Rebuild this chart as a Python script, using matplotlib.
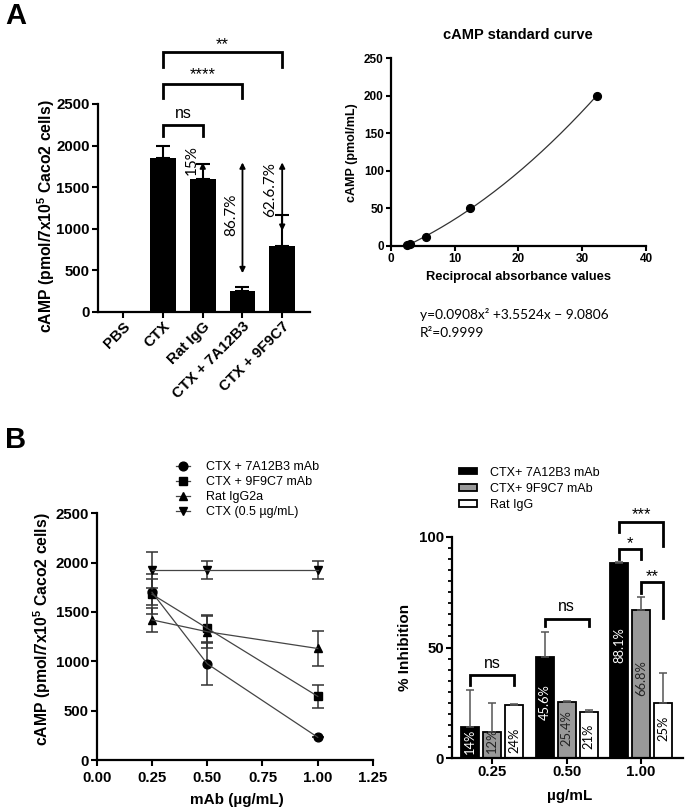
# -*- coding: utf-8 -*-

### cAMP figure: panels A and B ###

import numpy as np
import matplotlib
matplotlib.use("Agg")
import matplotlib.pyplot as plt
from matplotlib.patches import Patch
from matplotlib.lines import Line2D

plt.rcParams['font.family'] = ['Liberation Sans', 'DejaVu Sans']
plt.rcParams['mathtext.fontset'] = 'custom'
plt.rcParams['mathtext.bf'] = 'Liberation Sans:bold'
plt.rcParams['mathtext.rm'] = 'Liberation Sans'
plt.rcParams['mathtext.default'] = 'bf'

thin_font = ['Lato', 'DejaVu Sans']

## Data ##

# Panel A - bars
groups_A = ['PBS', 'CTX', 'Rat IgG', 'CTX + 7A12B3', 'CTX + 9F9C7']
camp_A = [8, 1850, 1600, 250, 790]
err_A = [0, 140, 180, 50, 370]

# Panel A - standard curve
recip_abs = [2.6, 3.1, 5.6, 12.5, 32.3]
std_camp = [0.8, 3.1, 12.5, 50, 200]
fit_coef = [0.0908, 3.5524, -9.0806]

# Panel B - dose response
dose = [0.25, 0.50, 1.00]
camp_7A12B3 = [1700, 975, 230]
sd_7A12B3 = [130, 210, 0]
camp_9F9C7 = [1680, 1335, 645]
sd_9F9C7 = [200, 135, 113]
camp_ratigg2a = [1420, 1300, 1130]
sd_ratigg2a = [120, 160, 175]
camp_ctx = [1925, 1925, 1925]
sd_ctx = [185, 95, 95]

# Panel B - inhibition
dose_labels = ['0.25', '0.50', '1.00']
inh_7A12B3 = [14, 45.6, 88.1]
inh_err_7A12B3 = [17, 11.5, 0.4]
inh_9F9C7 = [12, 25.4, 66.8]
inh_err_9F9C7 = [12.8, 0.5, 5.8]
inh_ratigg = [24, 21, 25]
inh_err_ratigg = [0.4, 0.9, 13.5]
inh_text_7A12B3 = ['14%', '45.6%', '88.1%']
inh_text_9F9C7 = ['12%', '25.4%', '66.8%']
inh_text_ratigg = ['24%', '21%', '25%']

W, H = 685, 810


def px_axes(fig, x0, x1, ytop, ybot):
    return fig.add_axes([x0 / W, 1 - ybot / H, (x1 - x0) / W, (ybot - ytop) / H])


def style_axis(ax, fs):
    for s in ['top', 'right']:
        ax.spines[s].set_visible(False)
    for s in ['left', 'bottom']:
        ax.spines[s].set_linewidth(1.6)
    ax.tick_params(width=1.5, length=4, labelsize=fs, pad=1.5)
    for lab in ax.get_xticklabels() + ax.get_yticklabels():
        lab.set_fontweight('bold')


def bracket(ax, x1, x2, y, yl, yr, text, ty, fs=12):
    ax.plot([x1, x1, x2, x2], [yl, y, y, yr], color='black', lw=2,
            clip_on=False, solid_joinstyle='miter')
    ax.text((x1 + x2) / 2, ty, text, ha='center', va='center',
            fontsize=fs, clip_on=False)


fig = plt.figure(figsize=(W / 100, H / 100), dpi=100)

fig.text(5 / W, 1 - 16 / H, 'A', fontsize=21, fontweight='bold', va='center')
fig.text(5 / W, 1 - 440 / H, 'B', fontsize=21, fontweight='bold', va='center')

## Panel A left ##
axA = px_axes(fig, 97.5, 310, 104, 311.7)
xA = np.arange(len(groups_A))
axA.bar(xA, camp_A, width=0.65, color='black')
axA.errorbar(xA[1:], camp_A[1:], yerr=[np.zeros(4), err_A[1:]], fmt='none',
             ecolor='black', elinewidth=1.5, capsize=5, capthick=1.5)
axA.set_xlim(-0.65, 4.7)
axA.set_ylim(0, 2500)
axA.set_yticks([0, 500, 1000, 1500, 2000, 2500])
axA.set_xticks(xA)
axA.set_xticklabels(groups_A, rotation=45, ha='right', rotation_mode='anchor')
style_axis(axA, 10.8)
axA.set_ylabel('cAMP (pmol/7x10$^5$ Caco2 cells)', fontsize=11.3, fontweight='bold')
axA.yaxis.set_label_coords(-0.19, 0.46)

# percentage arrows
arrow_kw = dict(arrowstyle='<|-|>', color='black', lw=1.3, mutation_scale=8)
axA.annotate('', xy=(3, 430), xytext=(3, 1830), arrowprops=arrow_kw)
axA.annotate('', xy=(4, 940), xytext=(4, 1830), arrowprops=arrow_kw)
axA.annotate('', xy=(2, 1830), xytext=(2, 1700),
             arrowprops=dict(arrowstyle='-|>', color='black', lw=1.3, mutation_scale=8))
axA.text(1.72, 1825, '15%', rotation=90, ha='center', va='center', fontsize=11, family=thin_font)
axA.text(2.72, 1165, '86.7%', rotation=90, ha='center', va='center', fontsize=11, family=thin_font)
axA.text(3.7, 1465, '62.6.7%', rotation=90, ha='center', va='center', fontsize=11, family=thin_font)

bracket(axA, 1, 2, 2250, 2120, 2120, 'ns', 2390, fs=11.5)
bracket(axA, 1, 3, 2740, 2570, 2570, '****', 2850)
bracket(axA, 1, 4, 3120, 2950, 2950, '**', 3210)

## Panel A right: standard curve ##
axS = px_axes(fig, 390.7, 646, 58.3, 246)
xfit = np.linspace(recip_abs[0], recip_abs[-1], 200)
axS.plot(xfit, np.polyval(fit_coef, xfit), color='#333333', lw=0.9)
axS.plot(recip_abs, std_camp, 'o', color='black', ms=5.6, clip_on=False)
axS.set_xlim(0, 40)
axS.set_ylim(0, 250)
axS.set_xticks([0, 10, 20, 30, 40])
axS.set_yticks([0, 50, 100, 150, 200, 250])
style_axis(axS, 8.5)
axS.tick_params(length=3.5)
axS.set_title('cAMP standard curve', fontsize=10.5, fontweight='bold', y=1.103, pad=0)
axS.set_ylabel('cAMP (pmol/mL)', fontsize=9, fontweight='bold')
axS.yaxis.set_label_coords(-0.128, 0.5)
axS.set_xlabel('Reciprocal absorbance values', fontsize=9.3, fontweight='bold')
axS.xaxis.set_label_coords(0.5, -0.135)
fig.text(420 / W, 1 - 315 / H, 'y=0.0908x² +3.5524x − 9.0806', fontsize=9.9,
         family=thin_font, va='center')
fig.text(420 / W, 1 - 333 / H, 'R²=0.9999', fontsize=9.9, family=thin_font, va='center')

## Panel B left: dose response ##
axB = px_axes(fig, 96.7, 373, 513.3, 760)
series = [(camp_7A12B3, sd_7A12B3, 'o', 'CTX + 7A12B3 mAb'),
          (camp_9F9C7, sd_9F9C7, 's', 'CTX + 9F9C7 mAb'),
          (camp_ratigg2a, sd_ratigg2a, '^', 'Rat IgG2a'),
          (camp_ctx, sd_ctx, 'v', 'CTX (0.5 µg/mL)')]
handles = []
for vals, sd, mk, lab in series:
    axB.errorbar(dose, vals, yerr=sd, fmt='-', color='#444444', lw=0.9,
                 ecolor='#333333', elinewidth=1.1, capsize=4, capthick=1.1)
    axB.plot(dose, vals, mk, color='black', ms=6.3, linestyle='none')
    handles.append(Line2D([], [], color='#444444', lw=0.9, marker=mk,
                          markerfacecolor='black', markeredgecolor='black', ms=6.3))
axB.set_xlim(0, 1.25)
axB.set_ylim(0, 2500)
axB.set_xticks([0, 0.25, 0.5, 0.75, 1.0, 1.25])
axB.set_xticklabels(['0.00', '0.25', '0.50', '0.75', '1.00', '1.25'])
axB.set_yticks([0, 500, 1000, 1500, 2000, 2500])
style_axis(axB, 10.8)
axB.tick_params(axis='x', pad=4)
axB.set_ylabel('cAMP (pmol/7x10$^5$ Caco2 cells)', fontsize=11.3, fontweight='bold')
axB.yaxis.set_label_coords(-0.158, 0.53)
axB.set_xlabel('mAb (µg/mL)', fontsize=11, fontweight='bold')
axB.xaxis.set_label_coords(0.508, -0.133)
fig.legend(handles, [s[3] for s in series], loc='upper left',
           bbox_to_anchor=(176 / W, 1 - 461 / H), frameon=False, fontsize=9,
           borderpad=0, borderaxespad=0, labelspacing=0.25,
           handlelength=1.1, handletextpad=1.3)

## Panel B right: % inhibition ##
axI = px_axes(fig, 451.7, 683, 536.7, 758.3)
xI = np.arange(len(dose_labels))
off, bw = 0.296, 0.245
bar_sets = [(xI - off, inh_7A12B3, inh_err_7A12B3, 'black', inh_text_7A12B3, 'white'),
            (xI, inh_9F9C7, inh_err_9F9C7, '#999999', inh_text_9F9C7, '#222222'),
            (xI + off, inh_ratigg, inh_err_ratigg, 'white', inh_text_ratigg, 'black')]
for pos, vals, err, col, txt, tcol in bar_sets:
    axI.bar(pos, vals, width=bw, color=col, edgecolor='black', linewidth=1.3)
    axI.errorbar(pos, vals, yerr=[np.zeros(3), err], fmt='none', ecolor='#555555',
                 elinewidth=1.1, capsize=3, capthick=1.1)
text_y = [[7.5, 25.5, 51], [8.3, 13.7, 36], [8.3, 9.8, 13.7]]
for (pos, vals, err, col, txt, tcol), ty in zip(bar_sets, text_y):
    for p, t, y in zip(pos, txt, ty):
        axI.text(p, y, t, rotation=90, ha='center', va='center', color=tcol,
                 fontsize=9.3, family=thin_font)
axI.set_xlim(-0.546, 2.565)
axI.set_ylim(0, 100)
axI.set_xticks(xI)
axI.set_xticklabels(dose_labels)
axI.set_yticks([0, 50, 100])
axI.set_yticks(np.arange(0, 101, 5), minor=True)
style_axis(axI, 10.8)
axI.tick_params(axis='x', pad=0.5)
axI.tick_params(axis='y', which='minor', length=3, width=1.3)
axI.set_ylabel('% Inhibition', fontsize=11, fontweight='bold')
axI.yaxis.set_label_coords(-0.172, 0.5)
axI.set_xlabel('µg/mL', fontsize=11, fontweight='bold')
axI.xaxis.set_label_coords(0.511, -0.14)

bracket(axI, -off, off, 37.6, 33, 33, 'ns', 43, fs=11.5)
bracket(axI, 1 - off, 1 + off, 62.8, 59.6, 59.6, 'ns', 68.4, fs=11.5)
bracket(axI, 2 - off, 2 + off, 106.7, 102.2, 95.9, '***', 110)
bracket(axI, 2 - off, 2, 94.4, 89.9, 89.9, '*', 97)
bracket(axI, 2, 2 + off, 79.7, 74.4, 63.1, '**', 82)

leg_handles = [Patch(facecolor='black', edgecolor='black', lw=1.3),
               Patch(facecolor='#999999', edgecolor='black', lw=1.3),
               Patch(facecolor='white', edgecolor='black', lw=1.3)]
fig.legend(leg_handles, ['CTX+ 7A12B3 mAb', 'CTX+ 9F9C7 mAb', 'Rat IgG'],
           loc='upper left', bbox_to_anchor=(459 / W, 1 - 466.5 / H), frameon=False,
           fontsize=9, borderpad=0, borderaxespad=0, labelspacing=0.33,
           handlelength=1.45, handleheight=0.45, handletextpad=1.0)

fig.savefig('out.png', dpi=100)
